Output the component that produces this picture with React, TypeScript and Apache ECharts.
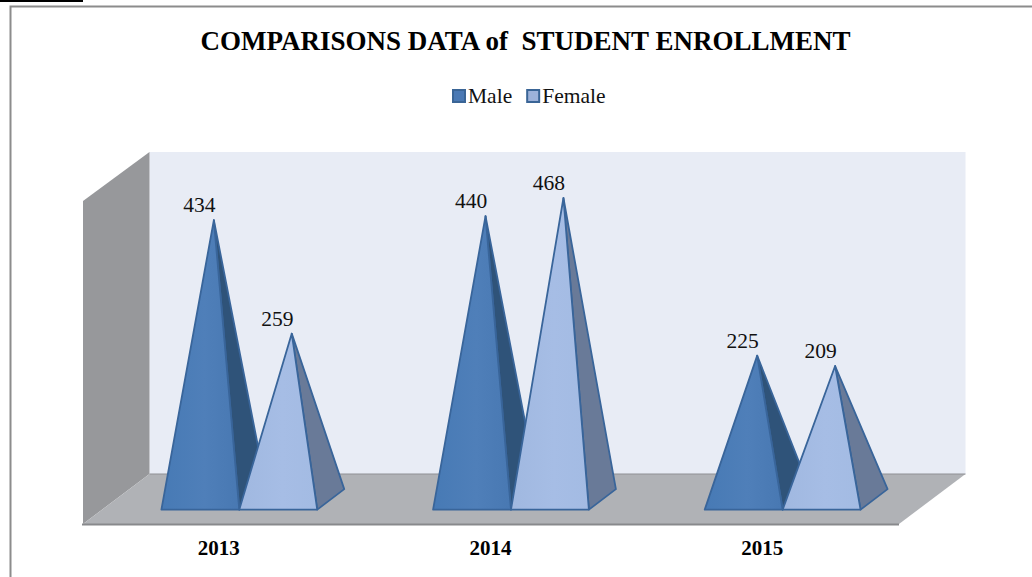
import React, { useEffect, useRef } from "react";
import * as echarts from "echarts";

const categories = ["2013", "2014", "2015"];
const maleValues = [434, 440, 225];
const femaleValues = [259, 468, 209];
const titleText = "COMPARISONS DATA of  STUDENT ENROLLMENT";

const SERIF = "'Liberation Serif', 'Times New Roman', serif";

const faceGradient = (a: string, b: string, c: string) => ({
  type: "linear", x: 0, y: 0, x2: 1, y2: 0,
  colorStops: [{ offset: 0, color: a }, { offset: 0.55, color: b }, { offset: 1, color: c }],
});

function pyramid(startFrac: number, front: any, side: string, edge: string, labelDx: number) {
  return (params: any, api: any) => {
    const i = api.value(0);
    const v = api.value(1);
    const [cx, apexY] = api.coord([i, v]);
    const [, zeroY] = api.coord([i, 0]);
    const band = api.size([1, 0])[0];
    const left = cx + band * startFrac;
    const right = left + band * 0.2868;
    const mid = (left + right) / 2;
    const frontY = zeroY + 8;
    const backY = zeroY - 12.5;
    const apexX = mid + 13.5;
    const backX = right + 27;
    return {
      type: "group",
      children: [
        {
          type: "polygon",
          shape: { points: [[right, frontY], [backX, backY], [apexX, apexY]] },
          style: { fill: side, stroke: edge, lineWidth: 1.8, lineJoin: "round" },
        },
        {
          type: "polygon",
          shape: { points: [[left, frontY], [right, frontY], [apexX, apexY]] },
          style: { fill: front, stroke: edge, lineWidth: 1.8, lineJoin: "round" },
        },
        {
          type: "text",
          x: apexX + labelDx,
          y: apexY - 15,
          style: {
            text: String(v),
            font: `21.5px ${SERIF}`,
            fill: "#111",
            textAlign: "center",
            textVerticalAlign: "middle",
          },
        },
      ],
    };
  };
}

export default function App() {
  const ref = useRef<HTMLDivElement>(null);
  useEffect(() => {
    const chart = echarts.init(ref.current!, undefined, { renderer: "svg" });
    chart.setOption({
      animation: false,
      backgroundColor: "#fff",
      title: {
        text: titleText,
        left: 520.5,
        textAlign: "center",
        top: 22,
        textStyle: { fontFamily: SERIF, fontWeight: "bold", fontSize: 27, color: "#000" },
      },
      legend: {
        left: 447,
        top: 80,
        itemWidth: 12,
        itemHeight: 12,
        itemGap: 14,
        icon: "rect",
        textStyle: { fontFamily: SERIF, fontSize: 21.5, color: "#111", padding: [0, 0, 0, -2] },
        data: ["Male", "Female"],
      },
      grid: { left: 83, width: 815, top: 112.4, height: 389.2 },
      xAxis: {
        type: "category",
        data: categories,
        axisLine: { show: false },
        axisTick: { show: false },
        axisLabel: {
          margin: 36,
          fontFamily: SERIF,
          fontWeight: "bold",
          fontSize: 21,
          color: "#000",
        },
      },
      yAxis: { type: "value", min: 0, max: 600, show: false },
      graphic: [
        { type: "rect", shape: { x: 0, y: 0, width: 83, height: 2 }, style: { fill: "#000" }, z: 0 },
        { type: "polyline", shape: { points: [[10.5, 577], [10.5, 6.5], [1032, 6.5]] }, style: { stroke: "#8c8c8c", lineWidth: 2, fill: "none" }, z: 0 },
        { type: "rect", shape: { x: 149.5, y: 152, width: 816, height: 322 }, style: { fill: "#e8ecf5" }, z: 0 },
        { type: "polygon", shape: { points: [[83, 201], [149.5, 152], [149.5, 474], [83, 524]] }, style: { fill: "#97989b" }, z: 0 },
        { type: "polygon", shape: { points: [[83, 524], [149.5, 474], [965.5, 474], [899, 524]] }, style: { fill: "#b0b2b6" }, z: 0 },
        { type: "line", shape: { x1: 149.5, y1: 474, x2: 965.5, y2: 474 }, style: { stroke: "#8f9094", lineWidth: 1 }, z: 1 },
        { type: "line", shape: { x1: 82, y1: 524.5, x2: 899, y2: 524.5 }, style: { stroke: "#88898c", lineWidth: 2 }, z: 1 },
      ],
      series: [
        {
          name: "Male",
          type: "custom",
          z: 3,
          encode: { x: 0, y: 1 },
          data: maleValues.map((v, i) => [i, v]),
          itemStyle: { color: "#4a79b4", borderColor: "#3a6596", borderWidth: 1 },
          renderItem: pyramid(-0.2114, faceGradient("#477ab5", "#4f7fb9", "#4878b2"), "#2f5379", "#39659a", -14.5),
        },
        {
          name: "Female",
          type: "custom",
          z: 4,
          encode: { x: 0, y: 1 },
          data: femaleValues.map((v, i) => [i, v]),
          itemStyle: { color: "#9db2da", borderColor: "#3a6596", borderWidth: 1 },
          renderItem: pyramid(0.0754, faceGradient("#a0b8e0", "#a6bde5", "#a3bbe3"), "#697a98", "#39659a", -14.5),
        },
      ],
    });
    return () => chart.dispose();
  }, []);
  return <div ref={ref} style={{ position: "absolute", left: 0, top: 0, width: 1032, height: 577 }} />;
}
